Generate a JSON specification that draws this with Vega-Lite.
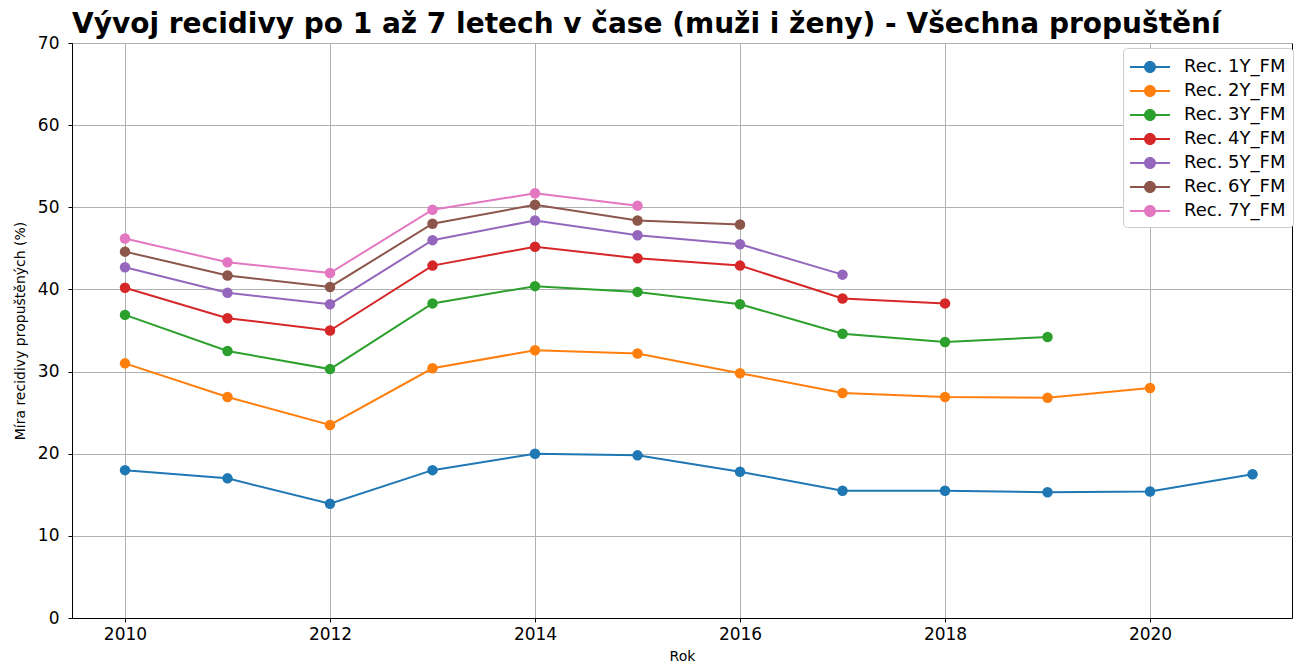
{
  "$schema": "https://vega.github.io/schema/vega-lite/v6.json",
  "width": 1220,
  "height": 575,
  "autosize": {"type": "none"},
  "padding": {"left": 72, "top": 43, "right": 4, "bottom": 48},
  "background": "white",
  "title": {
    "text": "Vývoj recidivy po 1 až 7 letech v čase (muži i ženy) - Všechna propuštění",
    "anchor": "start",
    "frame": "group",
    "font": "DejaVu Sans",
    "fontSize": 28,
    "fontWeight": "bold",
    "color": "black",
    "offset": -5
  },
  "config": {
    "view": {"stroke": "black", "strokeWidth": 1},
    "axis": {
      "labelFont": "DejaVu Sans",
      "titleFont": "DejaVu Sans",
      "labelFontSize": 17,
      "titleFontSize": 14,
      "titleFontWeight": "normal",
      "labelColor": "black",
      "titleColor": "black",
      "domainColor": "black",
      "tickColor": "black",
      "tickSize": 4,
      "labelPadding": 4,
      "gridColor": "#b0b0b0",
      "gridWidth": 1,
      "gridOpacity": 1
    }
  },
  "data": {
    "values": [
      {"Rok": 2010, "serie": "Rec. 1Y_FM", "v": 18.0},
      {"Rok": 2011, "serie": "Rec. 1Y_FM", "v": 17.0},
      {"Rok": 2012, "serie": "Rec. 1Y_FM", "v": 13.9},
      {"Rok": 2013, "serie": "Rec. 1Y_FM", "v": 18.0},
      {"Rok": 2014, "serie": "Rec. 1Y_FM", "v": 20.0},
      {"Rok": 2015, "serie": "Rec. 1Y_FM", "v": 19.8},
      {"Rok": 2016, "serie": "Rec. 1Y_FM", "v": 17.8},
      {"Rok": 2017, "serie": "Rec. 1Y_FM", "v": 15.5},
      {"Rok": 2018, "serie": "Rec. 1Y_FM", "v": 15.5},
      {"Rok": 2019, "serie": "Rec. 1Y_FM", "v": 15.3},
      {"Rok": 2020, "serie": "Rec. 1Y_FM", "v": 15.4},
      {"Rok": 2021, "serie": "Rec. 1Y_FM", "v": 17.5},
      {"Rok": 2010, "serie": "Rec. 2Y_FM", "v": 31.0},
      {"Rok": 2011, "serie": "Rec. 2Y_FM", "v": 26.9},
      {"Rok": 2012, "serie": "Rec. 2Y_FM", "v": 23.5},
      {"Rok": 2013, "serie": "Rec. 2Y_FM", "v": 30.4},
      {"Rok": 2014, "serie": "Rec. 2Y_FM", "v": 32.6},
      {"Rok": 2015, "serie": "Rec. 2Y_FM", "v": 32.2},
      {"Rok": 2016, "serie": "Rec. 2Y_FM", "v": 29.8},
      {"Rok": 2017, "serie": "Rec. 2Y_FM", "v": 27.4},
      {"Rok": 2018, "serie": "Rec. 2Y_FM", "v": 26.9},
      {"Rok": 2019, "serie": "Rec. 2Y_FM", "v": 26.8},
      {"Rok": 2020, "serie": "Rec. 2Y_FM", "v": 28.0},
      {"Rok": 2010, "serie": "Rec. 3Y_FM", "v": 36.9},
      {"Rok": 2011, "serie": "Rec. 3Y_FM", "v": 32.5},
      {"Rok": 2012, "serie": "Rec. 3Y_FM", "v": 30.3},
      {"Rok": 2013, "serie": "Rec. 3Y_FM", "v": 38.3},
      {"Rok": 2014, "serie": "Rec. 3Y_FM", "v": 40.4},
      {"Rok": 2015, "serie": "Rec. 3Y_FM", "v": 39.7},
      {"Rok": 2016, "serie": "Rec. 3Y_FM", "v": 38.2},
      {"Rok": 2017, "serie": "Rec. 3Y_FM", "v": 34.6},
      {"Rok": 2018, "serie": "Rec. 3Y_FM", "v": 33.6},
      {"Rok": 2019, "serie": "Rec. 3Y_FM", "v": 34.2},
      {"Rok": 2010, "serie": "Rec. 4Y_FM", "v": 40.2},
      {"Rok": 2011, "serie": "Rec. 4Y_FM", "v": 36.5},
      {"Rok": 2012, "serie": "Rec. 4Y_FM", "v": 35.0},
      {"Rok": 2013, "serie": "Rec. 4Y_FM", "v": 42.9},
      {"Rok": 2014, "serie": "Rec. 4Y_FM", "v": 45.2},
      {"Rok": 2015, "serie": "Rec. 4Y_FM", "v": 43.8},
      {"Rok": 2016, "serie": "Rec. 4Y_FM", "v": 42.9},
      {"Rok": 2017, "serie": "Rec. 4Y_FM", "v": 38.9},
      {"Rok": 2018, "serie": "Rec. 4Y_FM", "v": 38.3},
      {"Rok": 2010, "serie": "Rec. 5Y_FM", "v": 42.7},
      {"Rok": 2011, "serie": "Rec. 5Y_FM", "v": 39.6},
      {"Rok": 2012, "serie": "Rec. 5Y_FM", "v": 38.2},
      {"Rok": 2013, "serie": "Rec. 5Y_FM", "v": 46.0},
      {"Rok": 2014, "serie": "Rec. 5Y_FM", "v": 48.4},
      {"Rok": 2015, "serie": "Rec. 5Y_FM", "v": 46.6},
      {"Rok": 2016, "serie": "Rec. 5Y_FM", "v": 45.5},
      {"Rok": 2017, "serie": "Rec. 5Y_FM", "v": 41.8},
      {"Rok": 2010, "serie": "Rec. 6Y_FM", "v": 44.6},
      {"Rok": 2011, "serie": "Rec. 6Y_FM", "v": 41.7},
      {"Rok": 2012, "serie": "Rec. 6Y_FM", "v": 40.3},
      {"Rok": 2013, "serie": "Rec. 6Y_FM", "v": 48.0},
      {"Rok": 2014, "serie": "Rec. 6Y_FM", "v": 50.3},
      {"Rok": 2015, "serie": "Rec. 6Y_FM", "v": 48.4},
      {"Rok": 2016, "serie": "Rec. 6Y_FM", "v": 47.9},
      {"Rok": 2010, "serie": "Rec. 7Y_FM", "v": 46.2},
      {"Rok": 2011, "serie": "Rec. 7Y_FM", "v": 43.3},
      {"Rok": 2012, "serie": "Rec. 7Y_FM", "v": 42.0},
      {"Rok": 2013, "serie": "Rec. 7Y_FM", "v": 49.7},
      {"Rok": 2014, "serie": "Rec. 7Y_FM", "v": 51.7},
      {"Rok": 2015, "serie": "Rec. 7Y_FM", "v": 50.2}
    ]
  },
  "encoding": {
    "x": {
      "field": "Rok",
      "type": "quantitative",
      "title": "Rok",
      "scale": {"domain": [2009.483, 2021.385], "nice": false, "zero": false},
      "axis": {"values": [2010, 2012, 2014, 2016, 2018, 2020], "format": "d", "titlePadding": 7}
    },
    "y": {
      "field": "v",
      "type": "quantitative",
      "title": "Míra recidivy propuštěných (%)",
      "scale": {"domain": [0, 70], "nice": false},
      "axis": {"values": [0, 10, 20, 30, 40, 50, 60, 70], "labelPadding": 9, "titlePadding": 10}
    },
    "color": {
      "field": "serie",
      "type": "nominal",
      "scale": {
        "domain": ["Rec. 1Y_FM", "Rec. 2Y_FM", "Rec. 3Y_FM", "Rec. 4Y_FM", "Rec. 5Y_FM", "Rec. 6Y_FM", "Rec. 7Y_FM"],
        "range": ["#1f77b4", "#ff7f0e", "#2ca02c", "#d62728", "#9467bd", "#8c564b", "#e377c2"]
      },
      "legend": {
        "title": null,
        "orient": "none",
        "legendX": 1051,
        "legendY": 5,
        "padding": 7,
        "fillColor": "white",
        "strokeColor": "#cccccc",
        "cornerRadius": 4,
        "labelFont": "DejaVu Sans",
        "labelFontSize": 18,
        "labelColor": "black",
        "labelOffset": 22,
        "rowPadding": 3,
        "symbolSize": 576,
        "symbolOffset": 8,
        "symbolType": "M-1.667,-0.083L1.667,-0.083L1.667,0.083L-1.667,0.083Z M0.5,0 A0.5,0.5 0 1,1 -0.5,0 A0.5,0.5 0 1,1 0.5,0 Z",
        "symbolStrokeWidth": 0,
        "encode": {
          "symbols": {"update": {"fill": {"scale": "color", "field": "value"}, "strokeWidth": {"value": 0}, "opacity": {"value": 1}}}
        }
      }
    }
  },
  "layer": [
    {"mark": {"type": "line", "strokeWidth": 2}},
    {"mark": {"type": "point", "filled": true, "opacity": 1, "size": 110, "shape": "circle"}}
  ]
}
